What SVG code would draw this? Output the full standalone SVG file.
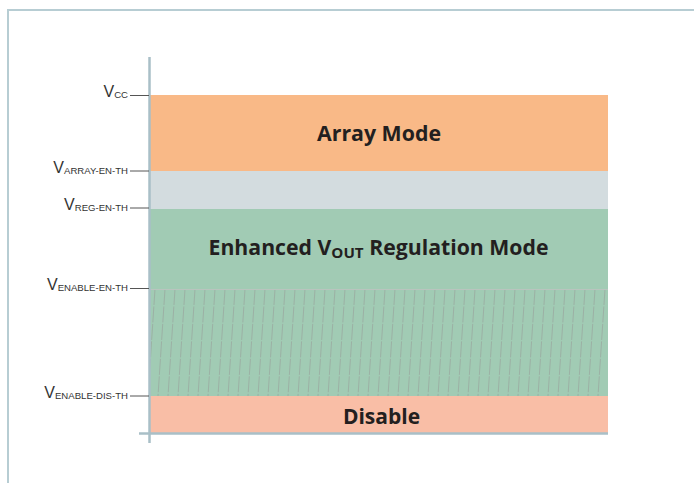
<svg xmlns="http://www.w3.org/2000/svg" width="694" height="483" viewBox="0 0 694 483">
<style>
.frame{stroke:#B7CDD3;stroke-width:2;fill:none}
.axis{stroke:#A9BFC7;stroke-width:2.5;fill:none}
.tick{stroke:#555;stroke-width:1}
.lbl{font-family:"Liberation Sans",Arial,sans-serif;font-size:16px;fill:#333}
.sub{font-size:9.6px}
.title{font-family:"Open Sans","Liberation Sans",sans-serif;font-weight:bold;font-size:21px;fill:#231F20;text-anchor:middle}
.hatch{stroke:#9AA59E;stroke-width:0.7;stroke-dasharray:16 1.5;fill:none}
</style>
<defs>
<clipPath id="hc"><rect x="150" y="290" width="458" height="106"/></clipPath>
</defs>
<rect width="694" height="483" fill="#fff"/>
<path class="frame" d="M8 483 V10 H694"/>
<g id="array-mode">
<rect x="150" y="95" width="458" height="76" fill="#F9B987"/>
<text class="title" x="379" y="141" textLength="124" lengthAdjust="spacingAndGlyphs">Array Mode</text>
</g>
<g id="transition">
<rect x="150" y="171" width="458" height="38" fill="#D3DCDF"/>
</g>
<g id="regulation-mode">
<rect x="150" y="209" width="458" height="187" fill="#A1CBB4"/>
<path class="hatch" clip-path="url(#hc)" d="M155 289l-7 107m17-107l-7 107m17-107l-7 107m17-107l-7 107m17-107l-7 107m17-107l-7 107m17-107l-7 107m17-107l-7 107m17-107l-7 107m17-107l-7 107m17-107l-7 107m17-107l-7 107m17-107l-7 107m17-107l-7 107m17-107l-7 107m17-107l-7 107m17-107l-7 107m17-107l-7 107m17-107l-7 107m17-107l-7 107m17-107l-7 107m17-107l-7 107m17-107l-7 107m17-107l-7 107m17-107l-7 107m17-107l-7 107m17-107l-7 107m17-107l-7 107m17-107l-7 107m17-107l-7 107m17-107l-7 107m17-107l-7 107m17-107l-7 107m17-107l-7 107m17-107l-7 107m17-107l-7 107m17-107l-7 107m17-107l-7 107m17-107l-7 107m17-107l-7 107m17-107l-7 107m17-107l-7 107m17-107l-7 107m17-107l-7 107m17-107l-7 107m17-107l-7 107"/>
<line x1="150" y1="289.5" x2="608" y2="289.5" stroke="#B9C4BE" stroke-width="1"/>
<text class="title" x="378.5" y="255" textLength="340" lengthAdjust="spacingAndGlyphs">Enhanced V<tspan font-size="15" dy="2.5">OUT</tspan><tspan dy="-2.5"> Regulation Mode</tspan></text>
</g>
<g id="disable">
<rect x="150" y="396" width="458" height="37" fill="#F9BEA6"/>
<text class="title" x="381.5" y="423.5">Disable</text>
</g>
<g id="axes">
<line class="axis" x1="149.5" y1="57" x2="149.5" y2="443"/>
<line class="axis" x1="139" y1="433.5" x2="608" y2="433.5"/>
</g>
<g id="ticks">
<line class="tick" x1="130" y1="95.5" x2="149" y2="95.5"/>
<line class="tick" x1="130" y1="171" x2="149" y2="171"/>
<line class="tick" x1="130" y1="208" x2="149" y2="208"/>
<line class="tick" x1="130" y1="288.5" x2="149" y2="288.5"/>
<line class="tick" x1="130" y1="396" x2="149" y2="396"/>
</g>
<g id="labels">
<text class="lbl" x="128" y="97" text-anchor="end">V<tspan class="sub" dy="1">CC</tspan></text>
<text class="lbl" x="128" y="172.5" text-anchor="end">V<tspan class="sub" dy="1">ARRAY-EN-TH</tspan></text>
<text class="lbl" x="128" y="209.5" text-anchor="end">V<tspan class="sub" dy="1">REG-EN-TH</tspan></text>
<text class="lbl" x="128" y="290" text-anchor="end">V<tspan class="sub" dy="1">ENABLE-EN-TH</tspan></text>
<text class="lbl" x="128" y="397.5" text-anchor="end">V<tspan class="sub" dy="1">ENABLE-DIS-TH</tspan></text>
</g>
</svg>
